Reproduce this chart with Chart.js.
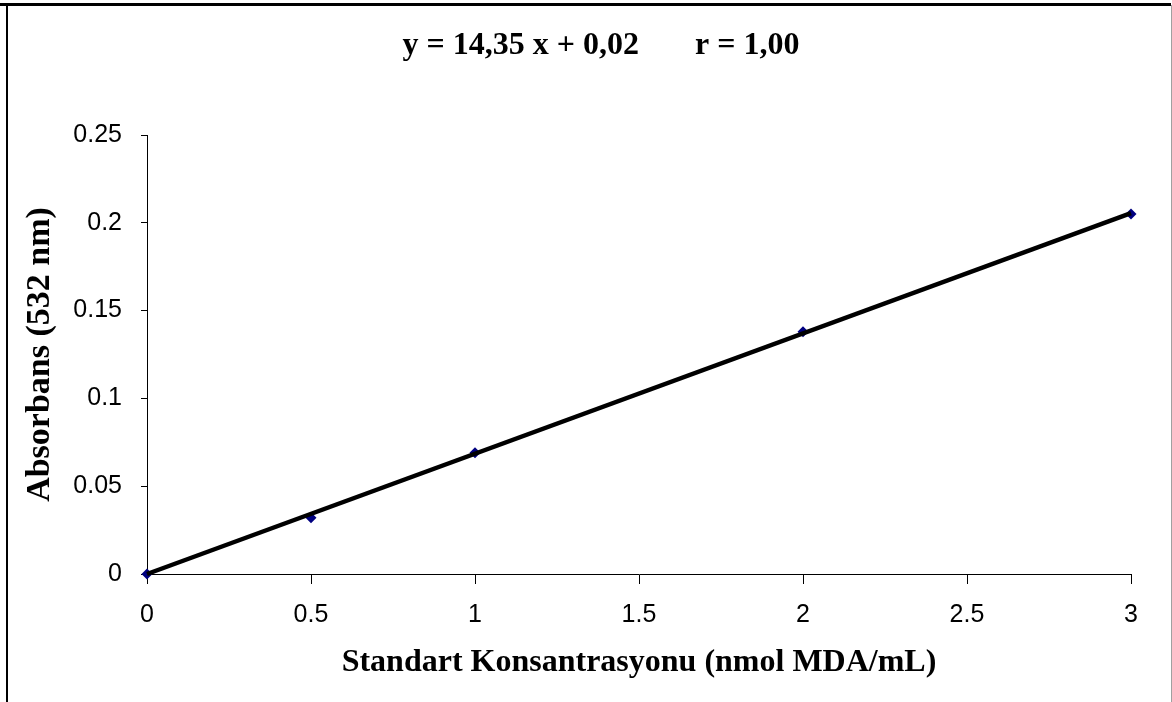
<!DOCTYPE html>
<html>
<head>
<meta charset="utf-8">
<script src="https://cdn.jsdelivr.net/npm/chart.js@4/dist/chart.umd.min.js"></script>
<style>
    html, body { margin: 0; padding: 0; background: #fff; overflow: hidden; }
    #stage { position: relative; width: 1172px; height: 702px; }
    #topLine { position: absolute; left: 0; top: 3px; width: 1171px; height: 3px; background: #000; }
    #sideLines { position: absolute; left: 6px; top: 5px; width: 1163px; height: 720px;
                 border-left: 2px solid #000; border-right: 1px solid #a0a0a0; }
</style>
</head>
<body>
<div id="stage">
    <canvas id="mdaChart" width="1172" height="702"></canvas>
    <div id="topLine"></div>
    <div id="sideLines"></div>
</div>
<script>
// Standart konsantrasyonlari ve okunan absorbans degerleri
const concentrations = [0, 0.5, 1, 2, 3];
const absorbances = [0, 0.032, 0.069, 0.138, 0.205];

// Trend cizgisinin uc noktalari
const trendX = [0, 3];
const trendY = [0, 0.2055];

const xTickLabels = ['0', '0.5', '1', '1.5', '2', '2.5', '3'];
const yTickLabels = ['0', '0.05', '0.1', '0.15', '0.2', '0.25'];

const equationText = 'y = 14,35 x + 0,02       r = 1,00';

document.addEventListener('DOMContentLoaded', function() {
    const ctx = document.getElementById('mdaChart').getContext('2d');

    const serif = '"Liberation Serif", "Times New Roman", serif';
    const sans = '"Liberation Sans", Arial, sans-serif';

    // Denklem yazisi icin kucuk eklenti
    const equationPlugin = {
        id: 'equationLabel',
        afterDraw(chart) {
            const c = chart.ctx;
            const area = chart.chartArea;
            c.save();
            c.font = 'bold 32px ' + serif;
            c.fillStyle = '#000';
            c.textAlign = 'center';
            c.textBaseline = 'middle';
            c.fillText(equationText, (area.left + area.right) / 2 - 38, 46);
            c.restore();
        }
    };

    new Chart(ctx, {
        type: 'scatter',
        data: {
            datasets: [
                {
                    type: 'line',
                    data: trendX.map((x, i) => ({ x: x, y: trendY[i] })),
                    borderColor: '#000',
                    borderWidth: 4.5,
                    pointRadius: 0,
                    fill: false,
                    clip: false,
                    order: 0
                },
                {
                    data: concentrations.map((x, i) => ({ x: x, y: absorbances[i] })),
                    pointStyle: 'rectRot',
                    pointRadius: 5.5,
                    backgroundColor: '#000080',
                    borderColor: '#000080',
                    borderWidth: 0,
                    showLine: false,
                    clip: false,
                    order: 1
                }
            ]
        },
        options: {
            responsive: false,
            animation: false,
            devicePixelRatio: 1,
            layout: { padding: { left: 0, right: 41, top: 135, bottom: 0 } },
            plugins: {
                legend: { display: false },
                tooltip: { enabled: false }
            },
            scales: {
                x: {
                    type: 'linear',
                    min: 0,
                    max: 3,
                    afterBuildTicks: (scale) => { scale.ticks = xTickLabels.map(t => ({ value: parseFloat(t) })); },
                    afterFit: (scale) => { scale.height = 128; },
                    grid: { drawOnChartArea: false, drawTicks: true, tickLength: 10, color: '#000' },
                    border: { color: '#000', width: 1 },
                    ticks: {
                        color: '#000',
                        padding: 16,
                        maxRotation: 0,
                        font: { family: sans, size: 25 },
                        callback: (v, i) => xTickLabels[i]
                    },
                    title: {
                        display: true,
                        text: 'Standart Konsantrasyonu (nmol MDA/mL)',
                        color: '#000',
                        padding: { top: 0, bottom: 20 },
                        font: { family: serif, weight: 'bold', size: 32 }
                    }
                },
                y: {
                    min: 0,
                    max: 0.25,
                    afterBuildTicks: (scale) => { scale.ticks = yTickLabels.map(t => ({ value: parseFloat(t) })); },
                    afterFit: (scale) => { scale.width = 147; },
                    grid: { drawOnChartArea: false, drawTicks: true, tickLength: 6, color: '#000' },
                    border: { color: '#000', width: 1 },
                    ticks: {
                        color: '#000',
                        padding: 19,
                        font: { family: sans, size: 25 },
                        callback: (v, i) => yTickLabels[i]
                    },
                    title: {
                        display: true,
                        text: 'Absorbans (532 nm)',
                        color: '#000',
                        padding: { top: 20, bottom: 0 },
                        font: { family: serif, weight: 'bold', size: 34 }
                    }
                }
            }
        },
        plugins: [equationPlugin]
    });
});
</script>
</body>
</html>
